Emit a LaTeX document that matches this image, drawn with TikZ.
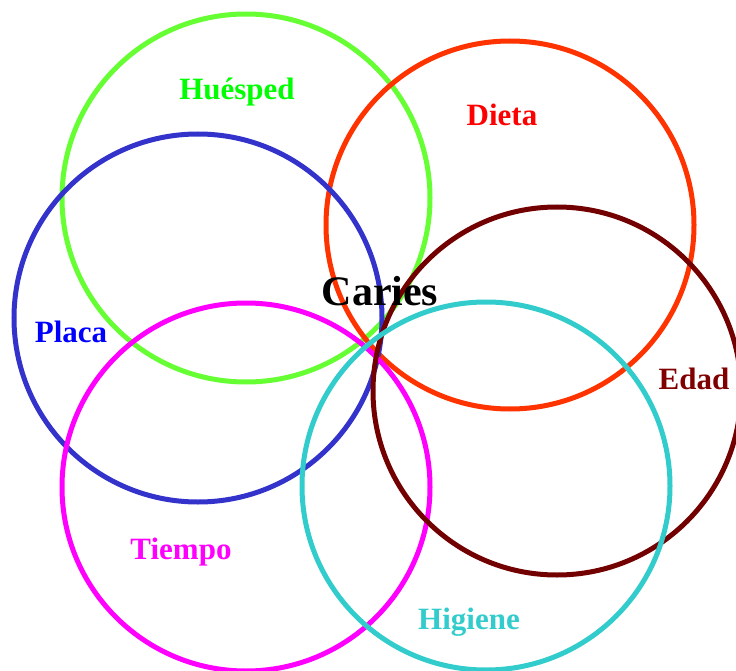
\documentclass[tikz,border=0pt]{standalone}
\usepackage{fontspec}
\setmainfont{Liberation Serif}
\definecolor{cgreen}{RGB}{102,255,51}
\definecolor{tgreen}{RGB}{0,255,0}
\definecolor{cred}{RGB}{255,51,0}
\definecolor{tred}{RGB}{255,0,0}
\definecolor{cmaroon}{RGB}{115,0,0}
\definecolor{tmaroon}{RGB}{128,0,0}
\definecolor{cblue}{RGB}{51,51,204}
\definecolor{tblue}{RGB}{0,0,255}
\definecolor{cmag}{RGB}{255,0,255}
\definecolor{ccyan}{RGB}{51,204,204}
\begin{document}
\begin{tikzpicture}[x=1pt,y=-1pt,
  ring/.style={draw=#1,line width=5pt,circle,minimum size=368pt,inner sep=0pt},
  lbl/.style={text=#1,font=\bfseries\fontsize{31}{31}\selectfont,anchor=base,inner sep=0pt}]
\useasboundingbox (0,0) rectangle (736,671);
\node[ring=cgreen] (huesped) at (246,198) {};
\node[ring=cred] (dieta) at (510,225) {};
\node[ring=cblue] (placa) at (198,318) {};
\node[ring=cmag] (tiempo) at (246,487) {};
\node[ring=cmaroon] (edad) at (557,391) {};
\node[ring=ccyan] (higiene) at (486,486) {};
\node[lbl=tgreen] (lh) at (237,100) {Huésped};
\node[lbl=tred] (ld) at (502,126) {Dieta};
\node[lbl=tmaroon] (le) at (694,389) {Edad};
\node[lbl=tblue] (lp) at (71,342) {Placa};
\node[lbl=cmag] (lt) at (181,559) {Tiempo};
\node[lbl=ccyan] (lhi) at (469,629) {Higiene};
\node[text=black,font=\bfseries\fontsize{42}{42}\selectfont,anchor=base,inner sep=0pt] (caries) at (380,305) {Caries};
\end{tikzpicture}
\end{document}
